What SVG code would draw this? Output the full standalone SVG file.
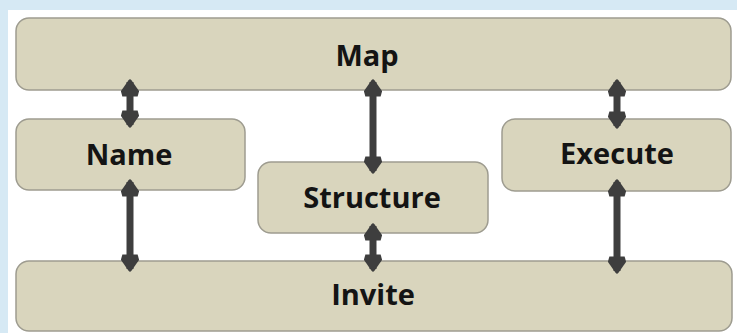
<svg xmlns="http://www.w3.org/2000/svg" width="737" height="333" viewBox="0 0 737 333">
<style>
.box{fill:#d9d5bd;stroke:#9e9c90;stroke-width:1.5}
.lbl{font-family:"Open Sans","Liberation Sans",sans-serif;font-weight:bold;font-size:29px;fill:#141414;text-anchor:middle}
.con{stroke:#3e3e3e;stroke-width:7;fill:none;marker-start:url(#ah);marker-end:url(#ah)}
</style>
<defs>
<marker id="ah" viewBox="0 0 10 10" refX="8" refY="5" markerWidth="2.6" markerHeight="2.6" orient="auto-start-reverse" markerUnits="strokeWidth">
<path d="M0,0.8 L3,0 L9,4.2 Q10,5 9,5.8 L3,10 L0,9.2 Z" fill="#3e3e3e"/>
</marker>
</defs>
<rect x="0" y="0" width="737" height="333" fill="#d6e9f4"/>
<rect x="8" y="10" width="729" height="323" fill="#ffffff"/>
<g id="map"><rect class="box" x="16" y="18" width="715" height="72" rx="13"/><text class="lbl" x="367" y="66">Map</text></g>
<g id="name"><rect class="box" x="16" y="119" width="229" height="71" rx="13"/><text class="lbl" x="129" y="165">Name</text></g>
<g id="structure"><rect class="box" x="258" y="162" width="230" height="71" rx="13"/><text class="lbl" x="372" y="208">Structure</text></g>
<g id="execute"><rect class="box" x="502" y="119" width="229" height="72" rx="13"/><text class="lbl" x="617" y="164">Execute</text></g>
<g id="invite"><rect class="box" x="16" y="261" width="716" height="70" rx="13"/><text class="lbl" x="373" y="305">Invite</text></g>
<g id="connectors">
<line class="con" x1="130" y1="82" x2="130" y2="125"/>
<line class="con" x1="130" y1="182" x2="130" y2="269"/>
<line class="con" x1="373" y1="82" x2="373" y2="171"/>
<line class="con" x1="373" y1="226" x2="373" y2="269"/>
<line class="con" x1="617" y1="82" x2="617" y2="126"/>
<line class="con" x1="617" y1="182" x2="617" y2="271"/>
</g>
</svg>
